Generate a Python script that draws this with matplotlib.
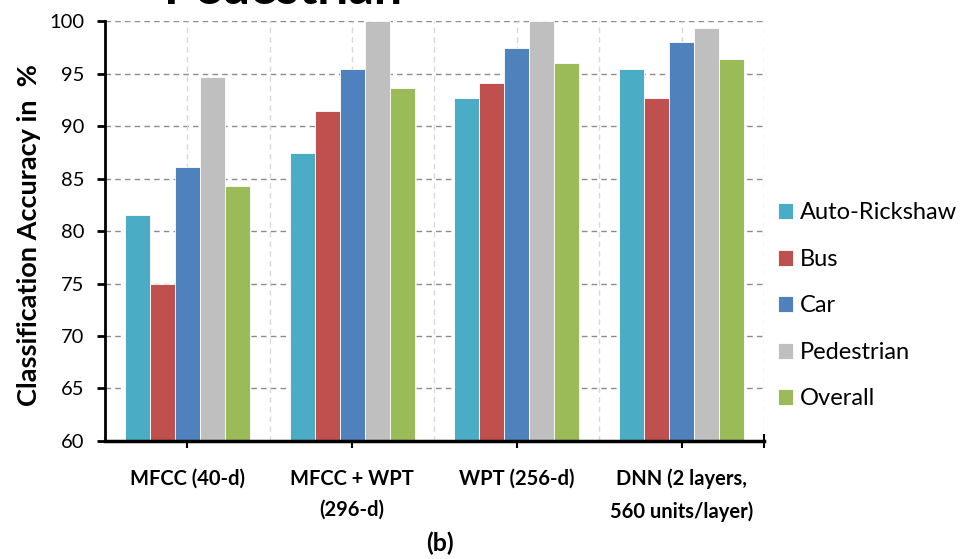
import numpy as np
import matplotlib
matplotlib.use('Agg')
import matplotlib.pyplot as plt
from matplotlib.ticker import FixedLocator

plt.rcParams['font.family'] = ['Lato', 'DejaVu Sans']

# data
methods = ['MFCC (40-d)', 'MFCC + WPT\n(296-d)', 'WPT (256-d)',
           'DNN (2 layers,\n560 units/layer)']
classes = ['Auto-Rickshaw', 'Bus', 'Car', 'Pedestrian', 'Overall']
auto_rickshaw = [81.5, 87.4, 92.7, 95.4]
bus = [75.0, 91.4, 94.1, 92.7]
car = [86.1, 95.4, 97.4, 98.0]
pedestrian = [94.7, 100.0, 100.0, 99.3]
overall = [84.3, 93.6, 96.0, 96.4]
yticks = [60, 65, 70, 75, 80, 85, 90, 95, 100]

series = [auto_rickshaw, bus, car, pedestrian, overall]
colors = ['#4BACC6', '#C0504D', '#4F81BD', '#BFBFBF', '#9BBB59']

fig = plt.figure(figsize=(9.65, 5.59), dpi=100)
ax = fig.add_axes([0.1088, 0.2111, 0.6829, 0.7513])

x = np.arange(len(methods))
width = 0.152
for i, (vals, col, name) in enumerate(zip(series, colors, classes)):
    ax.bar(x + (i - 2) * width, np.array(vals) - 60, width, bottom=60,
           color=col, edgecolor='white', linewidth=0.6, label=name, zorder=2)

ax.set_xlim(-0.5, len(methods) - 0.5)
ax.set_ylim(60, 100)
ax.set_yticks(yticks)
ax.set_yticklabels([str(t) for t in yticks], fontsize=14.5)
ax.set_xticks(x)
ax.set_xticklabels(methods, fontsize=14.5, fontweight='bold', linespacing=1.7)
ax.xaxis.set_minor_locator(FixedLocator([len(methods) - 0.5]))

# grid: dark horizontal, light vertical at centres and boundaries
for t in yticks:
    ax.axhline(t, color='#8c8c8c', lw=1.0, ls=(0, (4, 3)), zorder=1)
for v in np.arange(-0.5, len(methods), 0.5)[1:]:
    ax.axvline(v, color='#d9d9d9', lw=1.0, ls=(0, (4, 3)), zorder=1)

for s in ['top', 'right']:
    ax.spines[s].set_visible(False)
ax.spines['left'].set_linewidth(2)
ax.spines['bottom'].set_linewidth(2.5)
ax.spines['left'].set_zorder(4)
ax.spines['bottom'].set_zorder(4)
ax.tick_params(axis='y', direction='out', length=6, width=2, pad=9)
ax.tick_params(axis='x', which='both', direction='inout', length=10, width=1.5, pad=15)

ax.set_ylabel('Classification Accuracy in  %', fontsize=19.5, fontweight='bold')
ax.yaxis.label.set_va('center')
ax.yaxis.set_label_coords(-0.1153, 0.49)

fig.legend(*ax.get_legend_handles_labels(), loc='center left',
           bbox_to_anchor=(0.806, 0.4526), bbox_transform=fig.transFigure,
           frameon=False, fontsize=17, handlelength=0.65, handleheight=0.65,
           labelspacing=1.08, handletextpad=0.3, borderpad=0, borderaxespad=0)

fig.text(0.293, 0.9935, 'Pedestrian', fontsize=36, fontweight='bold',
         ha='center', va='baseline')
fig.text(0.456, 0.028, '(b)', fontsize=18, fontweight='bold', ha='center', va='center')

fig.savefig('out.png', dpi=100)
